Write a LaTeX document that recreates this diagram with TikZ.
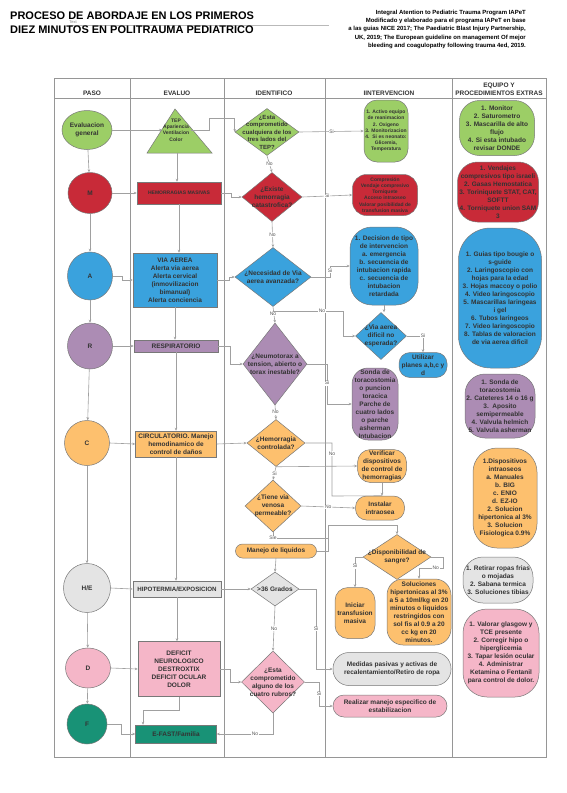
\documentclass[tikz,border=0pt]{standalone}
\usepackage{fontspec}
\setmainfont{Liberation Sans}
\usetikzlibrary{arrows.meta,shapes.geometric,positioning}

\newcommand\fsz[2]{\fontsize{#1}{#2}\selectfont}

\definecolor{cgreen}{RGB}{156,206,102}
\definecolor{cred}{RGB}{200,42,56}
\definecolor{cblue}{RGB}{58,162,221}
\definecolor{cpurple}{RGB}{172,140,180}
\definecolor{corange}{RGB}{253,192,110}
\definecolor{cgray}{RGB}{228,228,228}
\definecolor{cpink}{RGB}{245,182,200}
\definecolor{cteal}{RGB}{24,146,118}
\definecolor{txt}{RGB}{51,51,51}
\definecolor{edgegray}{RGB}{120,120,120}
\definecolor{lanegray}{RGB}{150,150,150}
\definecolor{congray}{RGB}{160,160,160}
\definecolor{labgray}{RGB}{90,90,90}

\tikzset{
  lane/.style={draw=lanegray, line width=0.9pt},
  shp/.style={draw=edgegray, line width=0.5pt, text=txt, align=center,
    inner sep=0pt, font=\bfseries\fsz{6.5}{8}},
  paso/.style={shp, ellipse},
  blk/.style={shp, rectangle},
  pill/.style={shp, rounded corners=#1},
  dia/.style={shp, diamond},
  dtxt/.style={text=txt, align=center, inner sep=0pt, font=\bfseries\fsz{6.5}{8}},
  fivept/.style={font=\bfseries\fsz{5}{6.2}},
  hdr/.style={text=txt, align=center, inner sep=0pt, font=\bfseries\fsz{6.5}{8}},
  con/.style={draw=congray, line width=0.6pt},
  arr/.style={con, -{Stealth[length=3pt,width=2.6pt]}},
  lab/.style={fill=white, inner sep=0.6pt, text=labgray, font=\fsz{5}{6}}
}

\begin{document}
\begin{tikzpicture}[x=1pt,y=-1pt]
\path[use as bounding box, fill=white] (0,0) rectangle (567,793);

% titulo
\draw[draw=gray!55, line width=1pt] (69,25.5) -- (329,25.5);
\node[anchor=north west, inner sep=0pt, align=left, font=\bfseries\fsz{11}{13.5}] (title) at (10,12)
  {PROCESO DE ABORDAJE EN LOS PRIMEROS\\DIEZ MINUTOS EN POLITRAUMA PEDIATRICO};
\node[inner sep=0pt, text=gray, font=\fsz{4}{4}] (txtmark) at (73,22.5) {Text};
\node[anchor=north east, inner sep=0pt, align=right, font=\bfseries\fsz{6}{8.4}] (ref) at (526,9.5)
  {Integral Atention to Pediatric Trauma Program IAPeT\\
   Modificado y elaborado para el programa IAPeT en base\\
   a las guias NICE 2017; The Paediatric Blast Injury Partnership,\\
   UK, 2019; The European guideline on management Of mejor\\
   bleeding and coagulopathy following trauma 4ed, 2019.};

% carriles
\draw[lane] (54,78) rectangle (546,757);
\foreach \xl in {130,224,325,452} \draw[lane] (\xl,78) -- (\xl,757);
\draw[lane] (54,98) -- (546,98);
\node[hdr] (hpaso) at (92,93) {PASO};
\node[hdr] (hevaluo) at (177,93) {EVALUO};
\node[hdr] (hident) at (274,93) {IDENTIFICO};
\node[hdr] (hinter) at (389,93) {IINTERVENCION};
\node[hdr] (hequipo) at (499,89) {EQUIPO Y\\PROCEDIMIENTOS EXTRAS};

% paso
\node[paso, fill=cgreen, minimum width=50, minimum height=39] (eg) at (87,130) {Evaluacion\\general};
\node[paso, fill=cred, minimum width=44, minimum height=41] (m) at (90,193) {M};
\node[paso, fill=cblue, minimum width=45, minimum height=48] (a) at (90,276) {A};
\node[paso, fill=cpurple, minimum width=45, minimum height=46] (r) at (90,346) {R};
\node[paso, fill=corange, minimum width=45, minimum height=45] (c) at (87,443) {C};
\node[paso, fill=cgray, minimum width=47, minimum height=49] (he) at (87,588) {H/E};
\node[paso, fill=cpink, minimum width=45, minimum height=40] (d) at (88,668) {D};
\node[paso, fill=cteal, minimum width=40, minimum height=40] (f) at (87,724) {F};

% evaluo
\filldraw[fill=cgreen, draw=edgegray, line width=0.5pt] (175,109) -- (212,153) -- (147,153) -- cycle;
\node[dtxt, fivept] (tep) at (176,130) {TEP\\Apariencia\\Ventilacion\\Color};
\coordinate (tepw) at (162,130);
\coordinate (tepr) at (191,130);
\coordinate (tepb) at (177,153);
\node[blk, fill=cred, fivept, minimum width=84, minimum height=22] (hm) at (179,193) {HEMORRAGIAS MASIVAS};
\node[blk, fill=cblue, minimum width=84, minimum height=54] (va) at (175,280)
  {VIA AEREA\\Alerta via aerea\\Alerta cervical\\(inmovilizacion\\bimanual)\\Alerta conciencia};
\node[blk, fill=cpurple, minimum width=84, minimum height=12] (resp) at (176,346) {RESPIRATORIO};
\node[blk, fill=corange, minimum width=81, minimum height=26] (circ) at (176,444)
  {CIRCULATORIO. Manejo\\hemodinamico de\\control de daños};
\node[blk, fill=cgray, minimum width=88, minimum height=16, font=\bfseries\fsz{6.2}{8}] (hipo) at (177,589) {HIPOTERMIA/EXPOSICION};
\node[blk, fill=cpink, minimum width=82, minimum height=55] (def) at (179,669)
  {DEFICIT\\NEUROLOGICO\\DESTROXTIX\\DEFICIT OCULAR\\DOLOR};
\node[blk, fill=cteal, minimum width=81, minimum height=18] (efast) at (176,734) {E-FAST/Familia};

% identifico
\node[dia, fill=cgreen, minimum width=64, minimum height=47,
  label={[dtxt, font=\bfseries\fsz{6}{7.5}]center:{¿Esta\\comprometido\\cualquiera de los\\tres lados del\\TEP?}}] (q1) at (267,132) {};
\node[dia, fill=cred, minimum width=60, minimum height=49,
  label={[dtxt]center:{¿Existe\\hemorragia\\catastrofica?}}] (q2) at (272,197) {};
\node[dia, fill=cblue, minimum width=76, minimum height=59,
  label={[dtxt]center:{¿Necesidad de Via\\aerea avanzada?}}] (q3) at (273,277) {};
\node[dia, fill=cpurple, minimum width=64, minimum height=82,
  label={[dtxt]center:{¿Neumotorax a\\tension, abierto o\\torax inestable?}}] (q4) at (275,364) {};
\node[dia, fill=corange, minimum width=58, minimum height=47,
  label={[dtxt]center:{¿Hemorragia\\controlada?}}] (q5) at (276,443) {};
\node[dia, fill=corange, minimum width=56, minimum height=52,
  label={[dtxt]center:{¿Tiene via\\venosa\\permeable?}}] (q6) at (273,506) {};
\node[pill=7, fill=corange, minimum width=81, minimum height=14] (liq) at (276,551) {Manejo de liquidos};
\node[dia, fill=cgray, minimum width=48, minimum height=34,
  label={[dtxt]center:{>36 Grados}}] (q7) at (275,589) {};
\node[dia, fill=cpink, minimum width=63, minimum height=62,
  label={[dtxt]center:{¿Esta\\comprometido\\alguno de los\\cuatro rubros?}}] (q8) at (273,682) {};

% intervencion
\node[pill=13, fill=cgreen, fivept, minimum width=44, minimum height=62] (i1) at (386,131)
  {1. Activo equipo\\de reanimacion\\2. Oxigeno\\3. Monitorizacion\\4.\ \ Si es neonato:\\Glicemia,\\Temperatura};
\node[pill=14, fill=cred, fivept, minimum width=65, minimum height=41] (i2) at (385,195)
  {Compresión\\Vendaje compresivo\\Torniquete\\Acceso intraoseo\\Valorar posibilidad de\\transfusion masiva};
\node[pill=22, fill=cblue, minimum width=68, minimum height=78] (i3) at (384,266)
  {1. Decision de tipo\\de intervencion\\a. emergencia\\b. secuencia de\\intubacion rapida\\c. secuencia de\\intubacion\\retardada};
\node[dia, fill=cblue, minimum width=51, minimum height=47,
  label={[dtxt]center:{¿Via aerea\\dificil no\\esperada?}}] (q9) at (381,336) {};
\node[pill=11, fill=cblue, minimum width=48, minimum height=25] (i4) at (423,365) {Utilizar\\planes a,b,c y\\d};
\node[pill=16, fill=cpurple, minimum width=46, minimum height=72] (i5) at (375,404)
  {Sonda de\\toracostomia\\o puncion\\toracica\\Parche de\\cuatro lados\\o parche\\asherman\\Intubacion};
\node[pill=13, fill=corange, minimum width=49, minimum height=33] (i6) at (382,466)
  {Verificar\\dispositivos\\de control de\\hemorragias};
\node[pill=11, fill=corange, minimum width=49, minimum height=24] (i7) at (380,508) {Instalar\\intraosea};
\node[dia, fill=corange, minimum width=68, minimum height=45,
  label={[dtxt]center:{¿Disponibilidad de\\sangre?}}] (q10) at (397,557) {};
\node[pill=13, fill=corange, minimum width=40, minimum height=51] (i8) at (355,613) {Iniciar\\transfusion\\masiva};
\node[pill=16, fill=corange, minimum width=64, minimum height=66] (i9) at (419,612)
  {Soluciones\\hipertonicas al 3\%\\a 5 a 10ml/kg en 20\\minutos o liquidos\\restringidos con\\sol fis al 0.9 a 20\\cc kg en 20\\minutos.};
\node[pill=16, fill=cgray, minimum width=118, minimum height=33] (i10) at (392,669)
  {Medidas pasivas y activas de\\recalentamiento/Retiro de ropa};
\node[pill=11, fill=cpink, minimum width=114, minimum height=22] (i11) at (390,706)
  {Realizar manejo especifico de\\estabilizacion};

% equipo
\node[pill=20, fill=cgreen, minimum width=75, minimum height=55] (e1) at (497,128)
  {1. Monitor\\2. Saturometro\\3. Mascarilla de alto\\flujo\\4. Si esta intubado\\revisar DONDE};
\node[pill=20, fill=cred, minimum width=81, minimum height=60] (e2) at (498,192)
  {1. Vendajes\\compresivos tipo israeli\\2. Gasas Hemostatica\\3. Toriniquete STAT, CAT,\\SOFTT\\4. Torniquete union SAM\\3};
\node[pill=32, fill=cblue, minimum width=83, minimum height=140] (e3) at (500,298)
  {1. Guias tipo bougie o\\s-guide\\2. Laringoscopio con\\hojas para la edad\\3. Hojas maccoy o polio\\4. Video laringoscopio\\5. Mascarillas laringeas\\i gel\\6. Tubos laringeos\\7. Video laringoscopio\\8. Tablas de valoracion\\de via aerea dificil};
\node[pill=20, fill=cpurple, minimum width=70, minimum height=64] (e4) at (500,406)
  {1. Sonda de\\toracostomia\\2. Cateteres 14 o 16 g\\3.\ \ Aposito\\semipermeable\\4. Valvula helmich\\5. Valvula asherman};
\node[pill=24, fill=corange, minimum width=64, minimum height=100] (e5) at (505,498)
  {1.Dispositivos\\intraoseos\\a. Manuales\\b. BIG\\c. ENIO\\d. EZ-IO\\2. Solucion\\hipertonica al 3\%\\3. Solucion\\Fisiologica 0.9\%};
\node[pill=20, fill=cgray, minimum width=70, minimum height=46] (e6) at (498,580)
  {1. Retirar ropas frias\\o mojadas\\2. Sabana termica\\3. Soluciones tibias};
\node[pill=24, fill=cpink, minimum width=76, minimum height=88] (e7) at (501,653)
  {1. Valorar glasgow y\\TCE presente\\2. Corregir hipo o\\hiperglicemia\\3. Tapar lesión ocular\\4. Administrar\\Ketamina o Fentanil\\para control de dolor.};

% conectores paso
\draw[arr] (eg) -- (m);
\draw[arr] (m) -- (a);
\draw[arr] (a) -- (r);
\draw[arr] (r) -- (c);
\draw[arr] (c) -- (he);
\draw[arr] (he) -- (d);
\draw[arr] (d) -- (f);
\draw[arr] (eg.east) -- (tepw);
\draw[arr] (m.east) -- (hm.west);
\draw[arr] (a.east) -- ++(10,0) |- (va.west);
\draw[arr] (r.east) -- (resp.west);
\draw[arr] (c.east) -- (circ.west);
\draw[arr] (he.east) -- (hipo.west);
\draw[arr] (d.east) -- (def.west);
\draw[arr] (f.east) -- ++(14,0) |- (efast.west);

% conectores evaluo
\draw[arr] (tepb) -- (tepb |- hm.north);
\draw[arr] (hm.south) -- (hm.south |- va.north);
\draw[arr] (va.south) -- (va.south |- resp.north);
\draw[arr] (resp.south) -- (resp.south |- circ.north);
\draw[arr] (circ.south) -- (circ.south |- hipo.north);
\draw[arr] (hipo.south) -- (hipo.south |- def.north);
\draw[arr] (def.south) -- ++(0,14) -| ([xshift=-33pt]efast.north);
\draw[arr] (tepr) -| (209,118) -| (q1.west);
\draw[arr] (hm.east) -- ++(10,0) |- (q2.west);
\draw[arr] (va.east) -- ++(12,0) |- (q3.west);
\draw[arr] (resp.east) -- ++(12,0) |- (q4.west);
\draw[arr] (circ.east) -- (q5.west);
\draw[arr] (hipo.east) -- (q7.west);
\draw[arr] (def.east) -- ++(10,0) |- (q8.west);

% conectores identifico
\draw[arr] (q1.south) -- (q2.north) node[lab, midway] {No};
\draw[arr] (q2.south) -- (q3.north) node[lab, midway] {No};
\coordinate (n3) at (273,311);
\draw[arr] (q3.south) -- (q4.north);
\node[lab] (no3) at (273,314) {No};
\draw[arr] (n3) -- (343,311) node[lab, pos=0.7] {No} -- (343,336) -- (q9.west);
\draw[arr] (q4.south) -- (q5.north) node[lab, midway] {No};
\draw[arr] (q5.south) -- (q6.north) node[lab, midway] {Si};
\draw[arr] (q5.south) -- (i6.west);
\draw[con] (q5.east) -| (332,496) node[lab, pos=0.6] {No} -- (i6.south |- i7.north);
\draw[arr] (i6.south) -- (i6.south |- i7.north);
\draw[arr] (q6.east) -- (i7.west) node[lab, midway] {No};
\draw[con] (q6.south) |- (328,538) node[lab, pos=0.5] {Sie};
\draw[arr] (liq.east) -- (328,551) -- (328,525) -| (q10.north);
\draw[arr] (liq.south) -- (q7.north);
\draw[arr] (q7.south) -- (q8.north) node[lab, midway] {No};
\draw[arr] (q8.south) |- (efast.east) node[lab, pos=0.66] {No};
\draw[arr] (q1.east) -- (i1.west) node[lab, midway] {Si};
\draw[arr] (q2.east) -- (i2.west) node[lab, midway] {Si};
\draw[arr] (q3.east) -| (330,266) node[lab, pos=0.8] {Si} -- (i3.west);
\draw[arr] (q4.east) -| (327,404) node[lab, pos=0.74] {Si} -- (i5.west);
\draw[arr] (q7.east) -| (316,669) node[lab, pos=0.75] {Si} -- (i10.west);
\draw[arr] (q8.east) -| (319,706) node[lab, pos=0.75] {Si} -- (i11.west);

% conectores intervencion
\draw[arr] (i3.south) -- (i3.south |- q9.north);
\draw[arr] (q9.east) -| (i4.north) node[lab, pos=0.5] {Si};
\draw[arr] (q10.west) -| (i8.north) node[lab, pos=0.65] {Si};
\draw[arr] (q10.east) -| (443,568) -| (i9.north) node[lab, pos=0.15] {No};
\end{tikzpicture}
\end{document}
